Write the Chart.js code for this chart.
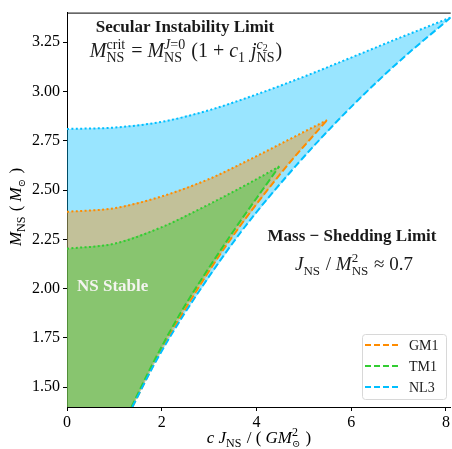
<!DOCTYPE html>
<html>
<head>
<meta charset="utf-8">
<script src="https://cdn.jsdelivr.net/npm/chart.js@4.4.1/dist/chart.umd.min.js"></script>
<style>
  html, body { margin: 0; padding: 0; background: #fff; }
</style>
</head>
<body>
<canvas id="nsChart" width="452" height="449"></canvas>
<script>
// EOS names and colours
const eosNames = ['GM1', 'TM1', 'NL3'];
const eosColors = ['#ff8c00', '#32cd32', '#00bfff'];
const eosFills = ['rgba(255,140,0,0.4)', 'rgba(50,205,50,0.4)', 'rgba(0,191,255,0.4)'];

// secular instability limit (dotted), J vs M
const gm1SecJ = [0, 1, 2, 3, 4, 5, 5.49];
const gm1SecM = [2.39, 2.408, 2.468, 2.556, 2.672, 2.795, 2.855];
const tm1SecJ = [0, 1, 2, 3, 4, 4.48];
const tm1SecM = [2.203, 2.228, 2.312, 2.428, 2.555, 2.62];
const nl3SecJ = [0, 1, 2, 3, 4, 5, 6, 7, 8.1];
const nl3SecM = [2.81, 2.817, 2.846, 2.905, 2.985, 3.075, 3.172, 3.27, 3.375];

// mass-shedding limit (dashed)
const gm1ShedJ = [1.38, 1.84, 2.43, 3.41, 4.53, 5.49];
const gm1ShedM = [1.40, 1.62, 1.87, 2.236, 2.59, 2.855];
const tm1ShedJ = [1.36, 1.81, 2.38, 3.48, 4.48];
const tm1ShedM = [1.40, 1.62, 1.87, 2.28, 2.62];
const nl3ShedJ = [1.38, 1.85, 2.47, 3.68, 4.82, 5.95, 7.0, 8.1];
const nl3ShedM = [1.40, 1.62, 1.87, 2.29, 2.62, 2.91, 3.15, 3.375];

// axes
const xTicks = [0, 2, 4, 6, 8];
const yTicks = [1.5, 1.75, 2.0, 2.25, 2.5, 2.75, 3.0, 3.25];
const xMin = 0, xMax = 8.1, yMin = 1.4, yMax = 3.4;

const F = '"Liberation Serif", "DejaVu Serif", serif';
function fnt(size, style) { return (style ? style + ' ' : '') + size + 'px ' + F; }

function pts(xs, ys) { return xs.map((x, i) => ({x: x, y: ys[i]})); }

// closed outline: left axis -> secular curve -> down the shedding line -> bottom
function region(secJ, secM, shedJ, shedM) {
  const p = [{x: 0, y: yMin}].concat(pts(secJ, secM));
  for (let i = shedJ.length - 2; i >= 0; i--) p.push({x: shedJ[i], y: shedM[i]});
  p.push({x: 0, y: yMin});
  return p;
}

function areaSet(data, color, order) {
  return { data: data, fill: 'shape', backgroundColor: color, borderWidth: 0,
           pointRadius: 0, tension: 0, order: order };
}
function lineSet(data, color, dash, order) {
  return { data: data, fill: false, borderColor: color, borderWidth: 2, borderDash: dash,
           pointRadius: 0, cubicInterpolationMode: 'monotone', order: order };
}

const dotted = [2, 2.4];
const dashed = [7, 3];

// --- rich text helpers (sub / superscripts) ---
function runsWidth(ctx, runs) {
  let w = 0;
  for (const r of runs) {
    if (r.sup || r.sub) {
      w += Math.max(runsWidth(ctx, r.sup || []), runsWidth(ctx, r.sub || [])) + 1;
    } else {
      ctx.font = r.f;
      w += ctx.measureText(r.t).width;
    }
  }
  return w;
}
function drawRuns(ctx, runs, x, y) {
  for (const r of runs) {
    if (r.sup || r.sub) {
      if (r.sup) drawRuns(ctx, r.sup, x, y - (r.up || 7));
      if (r.sub) drawRuns(ctx, r.sub, x, y + (r.down || 4));
      x += Math.max(runsWidth(ctx, r.sup || []), runsWidth(ctx, r.sub || [])) + 1;
    } else {
      ctx.font = r.f;
      ctx.fillText(r.t, x, y + (r.dy || 0));
      x += ctx.measureText(r.t).width;
    }
  }
  return x;
}
function drawCentered(ctx, runs, cx, y) {
  drawRuns(ctx, runs, cx - runsWidth(ctx, runs) / 2, y);
}

const it20 = fnt(20, 'italic'), rm20 = fnt(20), s14 = fnt(14), si14 = fnt(14, 'italic');
const it19 = fnt(19, 'italic'), rm19 = fnt(19), s13 = fnt(13);
const s12 = fnt(12);
const NS = [{t: 'NS', f: s12}];
const NS14 = [{t: 'NS', f: s14}];
const NS13 = [{t: 'NS', f: s13}];

const secFormula = [
  {t: 'M', f: it20}, {sup: [{t: 'crit', f: s14}], sub: NS14, up: 8, down: 5},
  {t: ' = ', f: rm20},
  {t: 'M', f: it20}, {sup: [{t: 'J', f: si14}, {t: '=0', f: s14}], sub: NS14, up: 8, down: 5},
  {t: ' (1 + ', f: rm20}, {t: 'c', f: it20}, {sub: [{t: '1', f: s14}], down: 5},
  {t: ' j', f: it20}, {sup: [{t: 'c', f: si14}, {t: '2', f: fnt(10), dy: 2}], sub: NS14, up: 8, down: 5},
  {t: ')', f: rm20}
];
const shedFormula = [
  {t: 'J', f: it19}, {sub: NS13, down: 5}, {t: ' / ', f: rm19},
  {t: 'M', f: it19}, {sup: [{t: '2', f: s13}], sub: NS13, up: 8, down: 5},
  {t: ' \u2248 0.7', f: rm19}
];
const xLabel = [
  {t: 'c J', f: fnt(17, 'italic')}, {sub: NS}, {t: ' / ( ', f: fnt(17)},
  {t: 'GM', f: fnt(17, 'italic')}, {sup: [{t: '2', f: s12}], sub: [{t: '\u2299', f: fnt(10)}]},
  {t: ' )', f: fnt(17)}
];
const yLabel = [
  {t: 'M', f: fnt(17, 'italic')}, {sub: NS}, {t: ' ( ', f: fnt(17)},
  {t: 'M', f: fnt(17, 'italic')}, {sub: [{t: '\u2299', f: fnt(10)}]},
  {t: ' )', f: fnt(17)}
];

const decorations = {
  id: 'decorations',
  afterDatasetsDraw(chart) {
    const ctx = chart.ctx;
    const a = chart.chartArea;
    ctx.save();
    // top spine
    ctx.strokeStyle = '#000';
    ctx.lineWidth = 1;
    ctx.beginPath();
    ctx.moveTo(a.left, a.top + 0.5);
    ctx.lineTo(a.right, a.top + 0.5);
    ctx.stroke();

    ctx.fillStyle = '#1a1a1a';
    ctx.textBaseline = 'alphabetic';
    ctx.textAlign = 'left';
    drawCentered(ctx, [{t: 'Secular Instability Limit', f: fnt(17, 'bold')}], 185, 32);
    drawCentered(ctx, secFormula, 186, 57);
    drawCentered(ctx, [{t: 'Mass \u2212 Shedding Limit', f: fnt(17, 'bold')}], 352, 241);
    drawCentered(ctx, shedFormula, 354, 270);

    ctx.fillStyle = '#f4f4f0';
    ctx.font = fnt(17, 'bold');
    ctx.fillText('NS Stable', 77, 291);

    // legend box
    ctx.fillStyle = 'rgba(255,255,255,0.85)';
    ctx.strokeStyle = '#d8d8d8';
    ctx.beginPath();
    ctx.roundRect(362.5, 334.5, 84, 65, 3);
    ctx.fill();
    ctx.stroke();
    const rows = [345, 366, 387];
    eosNames.forEach((name, i) => {
      ctx.strokeStyle = eosColors[i];
      ctx.lineWidth = 2;
      ctx.setLineDash([6, 3]);
      ctx.beginPath();
      ctx.moveTo(365, rows[i]);
      ctx.lineTo(398, rows[i]);
      ctx.stroke();
      ctx.setLineDash([]);
      ctx.fillStyle = '#1a1a1a';
      ctx.font = fnt(14);
      ctx.fillText(name, 409, rows[i] + 5);
    });
    ctx.restore();
  },
  afterDraw(chart) {
    const ctx = chart.ctx;
    ctx.save();
    ctx.fillStyle = '#000';
    ctx.textAlign = 'left';
    ctx.textBaseline = 'alphabetic';
    drawCentered(ctx, xLabel, 259, 443);
    ctx.translate(21, 207);
    ctx.rotate(-Math.PI / 2);
    drawCentered(ctx, yLabel, 0, 0);
    ctx.restore();
  }
};

const axisCommon = {
  type: 'linear',
  grid: { drawOnChartArea: false, drawTicks: true, tickLength: 4, color: '#000' },
  border: { display: true, color: '#000', width: 1 },
};

new Chart(document.getElementById('nsChart'), {
  type: 'line',
  data: {
    datasets: [
      areaSet(region(nl3SecJ, nl3SecM, nl3ShedJ, nl3ShedM), eosFills[2], 9),
      areaSet(region(gm1SecJ, gm1SecM, gm1ShedJ, gm1ShedM), eosFills[0], 8),
      areaSet(region(tm1SecJ, tm1SecM, tm1ShedJ, tm1ShedM), eosFills[1], 7),
      lineSet(pts(nl3SecJ, nl3SecM), eosColors[2], dotted, 6),
      lineSet(pts(gm1SecJ, gm1SecM), eosColors[0], dotted, 5),
      lineSet(pts(tm1SecJ, tm1SecM), eosColors[1], dotted, 4),
      lineSet(pts(gm1ShedJ, gm1ShedM), eosColors[0], dashed, 2),
      lineSet(pts(tm1ShedJ, tm1ShedM), eosColors[1], dashed, 1),
      lineSet(pts(nl3ShedJ, nl3ShedM), eosColors[2], dashed, 0)
    ]
  },
  options: {
    responsive: false,
    animation: false,
    layout: { padding: { top: 7, right: 1, left: 0, bottom: 0 } },
    plugins: { legend: { display: false }, tooltip: { enabled: false } },
    scales: {
      x: Object.assign({}, axisCommon, {
        min: xMin, max: xMax,
        afterBuildTicks: axis => { axis.ticks = xTicks.map(v => ({value: v})); },
        afterFit: s => { s.height = 42; },
        ticks: { color: '#000', font: { family: F, size: 16 }, padding: 2,
                 maxRotation: 0, autoSkip: false, callback: v => String(v) }
      }),
      y: Object.assign({}, axisCommon, {
        min: yMin, max: yMax,
        afterBuildTicks: axis => { axis.ticks = yTicks.map(v => ({value: v})); },
        afterFit: s => { s.width = 67; },
        ticks: { color: '#000', font: { family: F, size: 16 }, padding: 3,
                 autoSkip: false, callback: v => v.toFixed(2) }
      })
    }
  },
  plugins: [decorations]
});
</script>
</body>
</html>
